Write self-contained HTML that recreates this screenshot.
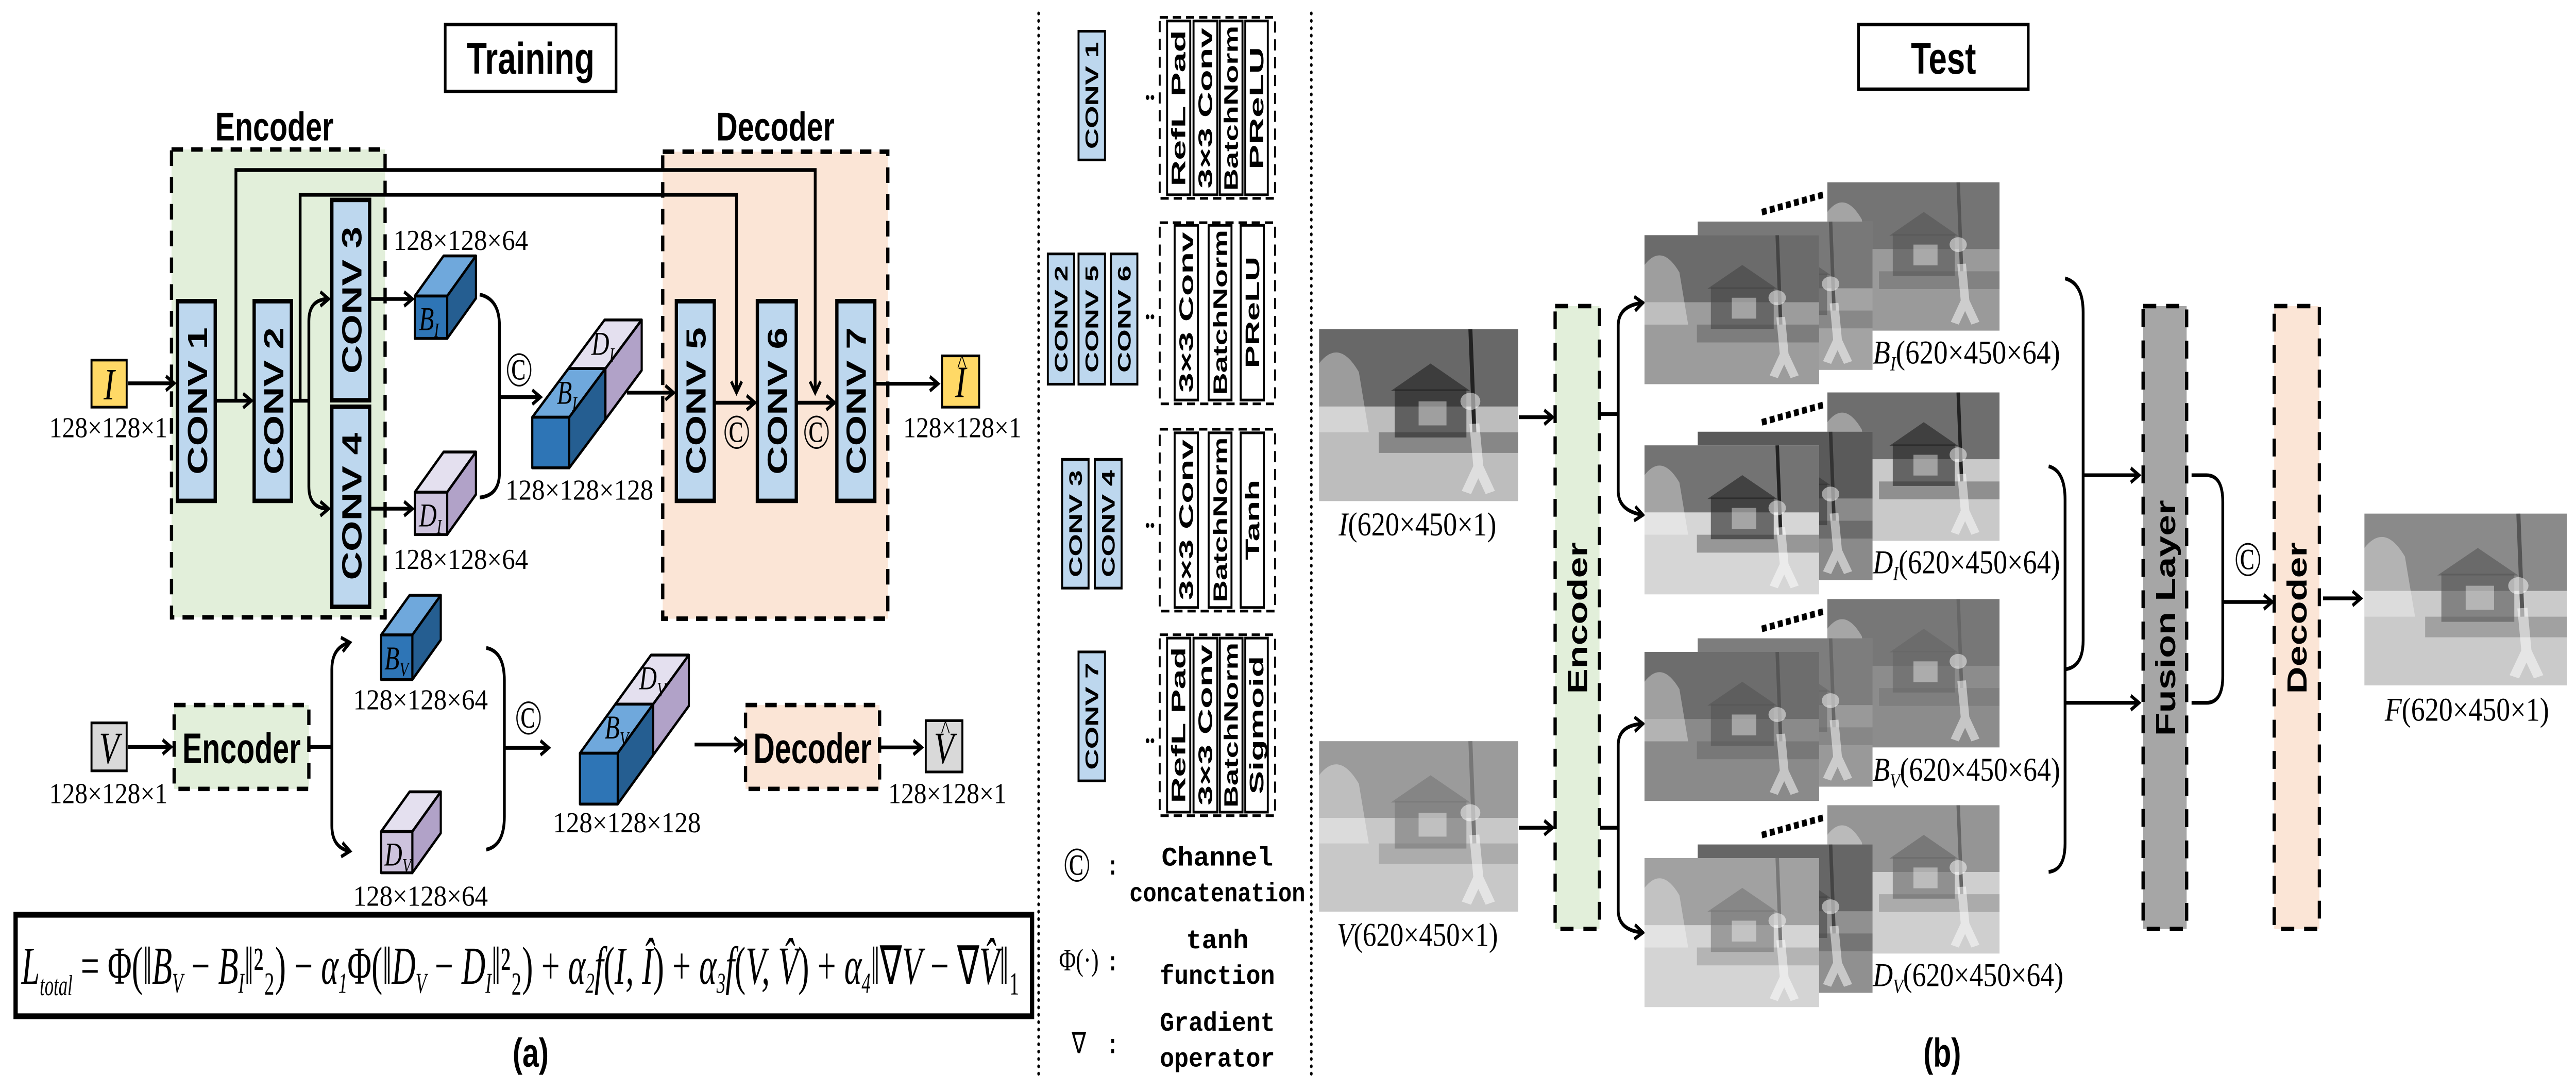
<!DOCTYPE html>
<html><head><meta charset="utf-8"><style>
html,body{margin:0;padding:0;background:#fff;width:100%;height:100%;overflow:hidden}
svg{display:block;position:fixed;left:0;top:0;width:100vw;height:100vh}
.s{font-family:"Liberation Serif",serif}
.b{font-family:"Liberation Sans",sans-serif;font-weight:bold}
.m{font-family:"Liberation Mono",monospace;font-weight:bold}
</style></head><body>
<svg viewBox="0 0 1568 489" preserveAspectRatio="none" xmlns="http://www.w3.org/2000/svg">
<defs>
<marker id="a" markerUnits="userSpaceOnUse" markerWidth="8" markerHeight="8" refX="6" refY="4" orient="auto"><path d="M1,0.8 L6,4 L1,7.2" fill="none" stroke="#000" stroke-width="1.6"/></marker>
<symbol id="sc" viewBox="0 0 100 100" preserveAspectRatio="none">
<rect x="0" y="0" width="100" height="45" fill="currentColor" opacity="0.55"/>
<path d="M0,20 Q10,5 20,25 L25,60 L0,60Z" fill="#fff" opacity="0.35"/>
<rect x="38" y="35" width="36" height="28" fill="currentColor" opacity="0.6"/>
<polygon points="36,36 56,20 76,36" fill="currentColor" opacity="0.6"/>
<rect x="50" y="42" width="14" height="14" fill="#fff" opacity="0.4"/>
<rect x="30" y="60" width="70" height="12" fill="currentColor" opacity="0.35"/>
<line x1="76" y1="0" x2="78" y2="60" stroke="currentColor" stroke-width="2"/>
<circle cx="76" cy="42" r="5" fill="#fff" opacity="0.5"/>
<path d="M78,55 L80,80 L74,95 M80,80 L86,95" stroke="#fff" stroke-width="5" opacity="0.5" fill="none"/>
</symbol>
</defs>

<rect x="271" y="11" width="104" height="30" fill="#fff" stroke="#000" stroke-width="1.6"/>
<text x="323" y="33" class="b" font-size="20" text-anchor="middle">Training</text>

<text x="167" y="63" class="b" font-size="18" text-anchor="middle">Encoder</text>
<rect x="104.4" y="67" width="130" height="209.7" fill="#e2efda" stroke="#000" stroke-width="2" stroke-dasharray="7,5"/>
<text x="472" y="63" class="b" font-size="18" text-anchor="middle">Decoder</text>
<rect x="403.4" y="68" width="137" height="209.3" fill="#fbe5d6" stroke="#000" stroke-width="2" stroke-dasharray="7,5"/>

<g fill="none" stroke="#000" stroke-width="1.7">
<path d="M143.6,179.6 V76.2 H496.2 V176" marker-end="url(#a)"/>
<path d="M182.7,179.6 V87.3 H448.3 V176" marker-end="url(#a)"/>
<path d="M78,171.8 H106" marker-end="url(#a)"/>
<path d="M131,179.6 H153" marker-end="url(#a)"/>
<path d="M177.4,179.6 H188"/>
<path d="M188,179.6 V144 Q188,134 200,134" marker-end="url(#a)"/>
<path d="M188,179.6 V218 Q188,228 200,228" marker-end="url(#a)"/>
<path d="M225,134 H251" marker-end="url(#a)"/>
<path d="M225,228 H251" marker-end="url(#a)"/>
<path d="M292,132 Q304,134 304,146 V212 Q304,222 292,223"/>
<path d="M304,178 H329" marker-end="url(#a)"/>
<path d="M381.6,176 H410" marker-end="url(#a)"/>
<path d="M434.8,180.5 H459.5" marker-end="url(#a)"/>
<path d="M484.7,180.5 H508" marker-end="url(#a)"/>
<path d="M532.5,172 H571" marker-end="url(#a)"/>
</g>

<rect x="55.7" y="161.4" width="21.4" height="21.1" fill="#ffd966" stroke="#000" stroke-width="1.2"/>
<text x="66.4" y="179" class="s" font-style="italic" font-size="20" text-anchor="middle">I</text>
<text x="66" y="196" class="s" font-size="13" text-anchor="middle" textLength="72" lengthAdjust="spacingAndGlyphs">128×128×1</text>

<g fill="#bdd7ee" stroke="#000" stroke-width="2">
<rect x="108" y="135" width="23" height="89.5"/>
<rect x="154.7" y="135" width="22.7" height="89.5"/>
<rect x="202" y="89.6" width="23" height="89.8"/>
<rect x="202" y="182.3" width="23" height="89.7"/>
<rect x="411.7" y="135" width="23.1" height="89.5"/>
<rect x="461" y="135" width="23.7" height="89.5"/>
<rect x="509.4" y="135" width="23.1" height="89.5"/>
</g>
<g class="b" font-size="17" text-anchor="middle">
<text transform="translate(126,179.7) rotate(-90)" textLength="66" lengthAdjust="spacingAndGlyphs">CONV 1</text>
<text transform="translate(172.5,179.7) rotate(-90)" textLength="66" lengthAdjust="spacingAndGlyphs">CONV 2</text>
<text transform="translate(220,134.5) rotate(-90)" textLength="66" lengthAdjust="spacingAndGlyphs">CONV 3</text>
<text transform="translate(220,227) rotate(-90)" textLength="66" lengthAdjust="spacingAndGlyphs">CONV 4</text>
<text transform="translate(429.5,179.7) rotate(-90)" textLength="66" lengthAdjust="spacingAndGlyphs">CONV 5</text>
<text transform="translate(479,179.7) rotate(-90)" textLength="66" lengthAdjust="spacingAndGlyphs">CONV 6</text>
<text transform="translate(527,179.7) rotate(-90)" textLength="66" lengthAdjust="spacingAndGlyphs">CONV 7</text>
</g>
<g class="s" font-size="22" text-anchor="middle">
<text x="448.4" y="201">©</text>
<text x="497" y="201">©</text>
<text x="316" y="173">©</text>
</g>

<g stroke="#000" stroke-width="1.3" stroke-linejoin="round">
<polygon points="252.5,132.7 272.2,132.7 289.7,114.7 270,114.7" fill="#6fa8dc"/>
<polygon points="272.2,132.7 289.7,114.7 289.7,133.7 272.2,151.7" fill="#255e91"/>
<rect x="252.5" y="132.7" width="19.7" height="19" fill="#2e75b6"/>
<polygon points="252.5,220.6 272.2,220.6 289.7,202.6 270,202.6" fill="#e4e0ef"/>
<polygon points="272.2,220.6 289.7,202.6 289.7,221.6 272.2,239.6" fill="#b1a2c8"/>
<rect x="252.5" y="220.6" width="19.7" height="19" fill="#cdc3dd"/>
<polygon points="346,165.2 368.5,165.2 390.6,143.4 368,143.4" fill="#e4e0ef"/>
<polygon points="368.5,165.2 390.6,143.4 390.6,166 368.5,188" fill="#b1a2c8"/>
<polygon points="324,187 346.5,187 368.5,165.2 346,165.2" fill="#6fa8dc"/>
<polygon points="346.5,187 368.5,165.2 368.5,188 346.5,209.7" fill="#255e91"/>
<rect x="324" y="187" width="22.5" height="22.7" fill="#2e75b6"/>
</g>
<g class="s" font-style="italic" font-size="15">
<text x="255" y="148">B<tspan font-size="9" dy="3">I</tspan></text>
<text x="255" y="236">D<tspan font-size="9" dy="3">I</tspan></text>
<text x="339" y="181">B<tspan font-size="9" dy="3">I</tspan></text>
<text x="360" y="159">D<tspan font-size="9" dy="3">I</tspan></text>
</g>
<g class="s" font-size="13" text-anchor="middle">
<text x="280.5" y="112" textLength="82" lengthAdjust="spacingAndGlyphs">128×128×64</text>
<text x="280.5" y="255" textLength="82" lengthAdjust="spacingAndGlyphs">128×128×64</text>
<text x="352.7" y="224" textLength="90" lengthAdjust="spacingAndGlyphs">128×128×128</text>
</g>
<rect x="573.4" y="159.5" width="22.6" height="23" fill="#ffd966" stroke="#000" stroke-width="1.2"/>
<text x="584.7" y="178" class="s" font-style="italic" font-size="20" text-anchor="middle">I</text>
<text x="585.5" y="167" class="s" font-size="12" text-anchor="middle">^</text>
<text x="585.8" y="196" class="s" font-size="13" text-anchor="middle" textLength="72" lengthAdjust="spacingAndGlyphs">128×128×1</text>

<rect x="55.7" y="324" width="21.4" height="21.5" fill="#d9d9d9" stroke="#000" stroke-width="1.2"/>
<text x="66.4" y="342" class="s" font-style="italic" font-size="20" text-anchor="middle">V</text>
<text x="66" y="360" class="s" font-size="13" text-anchor="middle" textLength="72" lengthAdjust="spacingAndGlyphs">128×128×1</text>
<rect x="106" y="316" width="82" height="37.6" fill="#e2efda" stroke="#000" stroke-width="2" stroke-dasharray="7,5"/>
<text x="147" y="342" class="b" font-size="19" text-anchor="middle" textLength="72" lengthAdjust="spacingAndGlyphs">Encoder</text>
<rect x="453.8" y="316" width="81.6" height="37.6" fill="#fbe5d6" stroke="#000" stroke-width="2" stroke-dasharray="7,5"/>
<text x="494.6" y="342" class="b" font-size="19" text-anchor="middle" textLength="72" lengthAdjust="spacingAndGlyphs">Decoder</text>
<g fill="none" stroke="#000" stroke-width="1.7">
<path d="M78,334.8 H104" marker-end="url(#a)"/>
<path d="M188,334.8 H202"/>
<path d="M202,334.8 V300 Q202,290 213,288" marker-end="url(#a)"/>
<path d="M202,334.8 V370 Q202,380 213,381.5" marker-end="url(#a)"/>
<path d="M296,290.4 Q307,292 307,305 V366 Q307,379 296,380.8"/>
<path d="M307,335.2 H334" marker-end="url(#a)"/>
<path d="M422.8,333.7 H452" marker-end="url(#a)"/>
<path d="M535.4,335 H561" marker-end="url(#a)"/>
</g>
<g stroke="#000" stroke-width="1.3" stroke-linejoin="round">
<polygon points="232,284.6 251,284.6 268.3,266.8 249.3,266.8" fill="#6fa8dc"/>
<polygon points="251,284.6 268.3,266.8 268.3,286.8 251,304.6" fill="#255e91"/>
<rect x="232" y="284.6" width="19" height="20" fill="#2e75b6"/>
<polygon points="232,372.7 251,372.7 268.3,354.9 249.3,354.9" fill="#e4e0ef"/>
<polygon points="251,372.7 268.3,354.9 268.3,373.4 251,391.2" fill="#b1a2c8"/>
<rect x="232" y="372.7" width="19" height="18.5" fill="#cdc3dd"/>
<polygon points="374.6,315.6 397.6,315.6 419.3,293.6 396.3,293.6" fill="#e4e0ef"/>
<polygon points="397.6,315.6 419.3,293.6 419.3,316.4 397.6,338.4" fill="#b1a2c8"/>
<polygon points="353,337.6 376,337.6 397.6,315.6 374.6,315.6" fill="#6fa8dc"/>
<polygon points="376,337.6 397.6,315.6 397.6,338.4 376,360.4" fill="#255e91"/>
<rect x="353" y="337.6" width="23" height="22.8" fill="#2e75b6"/>
</g>
<g class="s" font-style="italic" font-size="15">
<text x="234" y="300">B<tspan font-size="9" dy="3">V</tspan></text>
<text x="234" y="388">D<tspan font-size="9" dy="3">V</tspan></text>
<text x="368" y="331">B<tspan font-size="9" dy="3">V</tspan></text>
<text x="389" y="309">D<tspan font-size="9" dy="3">V</tspan></text>
</g>
<g class="s" font-size="13" text-anchor="middle">
<text x="256" y="318" textLength="82" lengthAdjust="spacingAndGlyphs">128×128×64</text>
<text x="256" y="406" textLength="82" lengthAdjust="spacingAndGlyphs">128×128×64</text>
<text x="381.6" y="373" textLength="90" lengthAdjust="spacingAndGlyphs">128×128×128</text>
</g>
<text x="321.7" y="329" class="s" font-size="22" text-anchor="middle">©</text>
<rect x="563.5" y="323" width="22.3" height="23" fill="#d9d9d9" stroke="#000" stroke-width="1.2"/>
<text x="574.6" y="342" class="s" font-style="italic" font-size="20" text-anchor="middle">V</text>
<text x="575.5" y="331" class="s" font-size="12" text-anchor="middle">^</text>
<text x="576.7" y="360" class="s" font-size="13" text-anchor="middle" textLength="72" lengthAdjust="spacingAndGlyphs">128×128×1</text>

<rect x="9.5" y="410" width="618.7" height="45.5" fill="#fff" stroke="#000" stroke-width="2.6"/>
<text x="13" y="441" class="s" font-style="italic" font-size="24" textLength="608" lengthAdjust="spacingAndGlyphs">L<tspan font-size="13" dy="5">total</tspan><tspan dy="-5" font-style="normal"> = Φ(‖</tspan>B<tspan font-size="13" dy="4">V</tspan><tspan dy="-4" font-style="normal"> − </tspan>B<tspan font-size="13" dy="4">I</tspan><tspan dy="-4" font-style="normal">‖²₂) − </tspan>α<tspan font-size="13" dy="4">1</tspan><tspan dy="-4" font-style="normal">Φ(‖</tspan>D<tspan font-size="13" dy="4">V</tspan><tspan dy="-4" font-style="normal"> − </tspan>D<tspan font-size="13" dy="4">I</tspan><tspan dy="-4" font-style="normal">‖²₂) + </tspan>α<tspan font-size="13" dy="4">2</tspan><tspan dy="-4">f</tspan><tspan font-style="normal">(</tspan>I, Î<tspan font-style="normal">) + </tspan>α<tspan font-size="13" dy="4">3</tspan><tspan dy="-4">f</tspan><tspan font-style="normal">(</tspan>V, V̂<tspan font-style="normal">) + </tspan>α<tspan font-size="13" dy="4">4</tspan><tspan dy="-4" font-style="normal">‖∇</tspan>V<tspan font-style="normal"> − ∇</tspan>V̂<tspan font-style="normal">‖₁</tspan></text>
<text x="323" y="478" class="b" font-size="18" text-anchor="middle">(a)</text>

<line x1="632.2" y1="6" x2="632.2" y2="482" stroke="#000" stroke-width="1.6" stroke-dasharray="0.1,3.2" stroke-linecap="round"/>
<line x1="798.2" y1="6" x2="798.2" y2="482" stroke="#000" stroke-width="1.6" stroke-dasharray="0.1,3.2" stroke-linecap="round"/>

<g fill="#bdd7ee" stroke="#000" stroke-width="1.2">
<rect x="656.5" y="14" width="16.1" height="57.7"/>
<rect x="637.8" y="113.8" width="16" height="58.4"/>
<rect x="656.5" y="113.8" width="16.1" height="58.4"/>
<rect x="676.2" y="113.8" width="16.1" height="58.4"/>
<rect x="646.5" y="205.9" width="16.1" height="57.7"/>
<rect x="666.4" y="205.9" width="16.3" height="57.7"/>
<rect x="656.5" y="292.2" width="16.1" height="57.8"/>
</g>
<g class="b" font-size="11" text-anchor="middle">
<text transform="translate(668.5,42.8) rotate(-90)" textLength="48" lengthAdjust="spacingAndGlyphs">CONV 1</text>
<text transform="translate(649.8,143) rotate(-90)" textLength="48" lengthAdjust="spacingAndGlyphs">CONV 2</text>
<text transform="translate(668.5,143) rotate(-90)" textLength="48" lengthAdjust="spacingAndGlyphs">CONV 5</text>
<text transform="translate(688.2,143) rotate(-90)" textLength="48" lengthAdjust="spacingAndGlyphs">CONV 6</text>
<text transform="translate(658.5,234.7) rotate(-90)" textLength="48" lengthAdjust="spacingAndGlyphs">CONV 3</text>
<text transform="translate(678.5,234.7) rotate(-90)" textLength="48" lengthAdjust="spacingAndGlyphs">CONV 4</text>
<text transform="translate(668.5,321) rotate(-90)" textLength="48" lengthAdjust="spacingAndGlyphs">CONV 7</text>
</g>
<g fill="#000">
<circle cx="698.5" cy="43.7" r="1.1"/><circle cx="701.5" cy="43.7" r="1.1"/>
<circle cx="698.5" cy="142" r="1.1"/><circle cx="701.5" cy="142" r="1.1"/>
<circle cx="698.5" cy="235.5" r="1.1"/><circle cx="701.5" cy="235.5" r="1.1"/>
<circle cx="698.5" cy="332" r="1.1"/><circle cx="701.5" cy="332" r="1.1"/>
</g>
<g fill="none" stroke="#000" stroke-width="1.2" stroke-dasharray="5,3">
<rect x="705.9" y="7.8" width="70.2" height="81.1"/>
<rect x="705.9" y="99.8" width="70.2" height="81.2"/>
<rect x="705.9" y="192.4" width="70.2" height="81.5"/>
<rect x="705.9" y="284.5" width="70.2" height="81.1"/>
</g>
<g fill="#fff" stroke="#000" stroke-width="1.2">
<rect x="710.4" y="9.4" width="14.1" height="77.9"/><rect x="726.5" y="9.4" width="14.5" height="77.9"/><rect x="742.5" y="9.4" width="13.8" height="77.9"/><rect x="758" y="9.4" width="13.7" height="77.9"/>
<rect x="715" y="101" width="14.2" height="78.3"/><rect x="735.7" y="101" width="13.9" height="78.3"/><rect x="755.2" y="101" width="14.1" height="78.3"/>
<rect x="715" y="194" width="14.2" height="78.3"/><rect x="735.7" y="194" width="13.9" height="78.3"/><rect x="755.2" y="194" width="14.1" height="78.3"/>
<rect x="710.4" y="286" width="14.1" height="78"/><rect x="726.5" y="286" width="14.5" height="78"/><rect x="742.5" y="286" width="13.8" height="78"/><rect x="758" y="286" width="13.7" height="78"/>
</g>
<g class="b" font-size="12" text-anchor="middle">
<text transform="translate(721.5,48.5) rotate(-90)" textLength="70" lengthAdjust="spacingAndGlyphs">RefL  Pad</text>
<text transform="translate(737.8,48.5) rotate(-90)" textLength="72" lengthAdjust="spacingAndGlyphs">3×3 Conv</text>
<text transform="translate(753.5,48.5) rotate(-90)" textLength="74" lengthAdjust="spacingAndGlyphs">BatchNorm</text>
<text transform="translate(769,48.5) rotate(-90)" textLength="55" lengthAdjust="spacingAndGlyphs">PReLU</text>
<text transform="translate(726.2,140) rotate(-90)" textLength="72" lengthAdjust="spacingAndGlyphs">3×3 Conv</text>
<text transform="translate(746.8,140) rotate(-90)" textLength="74" lengthAdjust="spacingAndGlyphs">BatchNorm</text>
<text transform="translate(766.4,140) rotate(-90)" textLength="50" lengthAdjust="spacingAndGlyphs">PReLU</text>
<text transform="translate(726.2,233) rotate(-90)" textLength="72" lengthAdjust="spacingAndGlyphs">3×3 Conv</text>
<text transform="translate(746.8,233) rotate(-90)" textLength="74" lengthAdjust="spacingAndGlyphs">BatchNorm</text>
<text transform="translate(766.4,233) rotate(-90)" textLength="36" lengthAdjust="spacingAndGlyphs">Tanh</text>
<text transform="translate(721.5,325) rotate(-90)" textLength="70" lengthAdjust="spacingAndGlyphs">RefL  Pad</text>
<text transform="translate(737.8,325) rotate(-90)" textLength="72" lengthAdjust="spacingAndGlyphs">3×3 Conv</text>
<text transform="translate(753.5,325) rotate(-90)" textLength="74" lengthAdjust="spacingAndGlyphs">BatchNorm</text>
<text transform="translate(769,325) rotate(-90)" textLength="62" lengthAdjust="spacingAndGlyphs">Sigmoid</text>
</g>
<text x="655.5" y="395" class="s" font-size="22" text-anchor="middle">©</text>
<text x="656.7" y="435" class="s" font-size="14" text-anchor="middle">Φ(·)</text>
<text x="656.7" y="472" class="s" font-size="13" text-anchor="middle">∇</text>
<g class="m" font-size="12" text-anchor="middle">
<text x="677.3" y="392">:</text><text x="677.3" y="435">:</text><text x="677.3" y="472">:</text>
<text x="741" y="388" textLength="68" lengthAdjust="spacingAndGlyphs">Channel</text>
<text x="741" y="404" textLength="107" lengthAdjust="spacingAndGlyphs">concatenation</text>
<text x="741" y="425" textLength="38" lengthAdjust="spacingAndGlyphs">tanh</text>
<text x="741" y="441" textLength="70" lengthAdjust="spacingAndGlyphs">function</text>
<text x="741" y="462" textLength="70" lengthAdjust="spacingAndGlyphs">Gradient</text>
<text x="741" y="478" textLength="70" lengthAdjust="spacingAndGlyphs">operator</text>
</g>

<rect x="1131.3" y="11" width="103.3" height="29" fill="#fff" stroke="#000" stroke-width="1.6"/>
<text x="1183" y="33" class="b" font-size="20" text-anchor="middle">Test</text>

<rect x="802.9" y="147.5" width="121.2" height="77.1" fill="#bdbdbd"/>
<use href="#sc" x="802.9" y="147.5" width="121.2" height="77.1" style="color:#222"/>
<text x="862.8" y="240" class="s" font-size="15" text-anchor="middle" textLength="96" lengthAdjust="spacingAndGlyphs"><tspan font-style="italic">I</tspan>(620×450×1)</text>
<rect x="802.9" y="332.2" width="121.2" height="76.4" fill="#c8c8c8"/>
<use href="#sc" x="802.9" y="332.2" width="121.2" height="76.4" style="color:#777"/>
<text x="862.8" y="424" class="s" font-size="15" text-anchor="middle" textLength="98" lengthAdjust="spacingAndGlyphs"><tspan font-style="italic">V</tspan>(620×450×1)</text>

<rect x="946.6" y="137.2" width="27" height="279.2" fill="#e2efda" stroke="#000" stroke-width="2" stroke-dasharray="8,6"/>
<text transform="translate(966,277) rotate(-90)" class="b" font-size="17" text-anchor="middle">Encoder</text>
<rect x="1304.5" y="137.2" width="26.5" height="279.2" fill="#a6a6a6" stroke="#000" stroke-width="2" stroke-dasharray="8,6"/>
<text transform="translate(1324,277) rotate(-90)" class="b" font-size="17" text-anchor="middle">Fusion Layer</text>
<rect x="1384.3" y="137.2" width="27.5" height="279.2" fill="#fbe5d6" stroke="#000" stroke-width="2" stroke-dasharray="8,6"/>
<text transform="translate(1404,277) rotate(-90)" class="b" font-size="17" text-anchor="middle">Decoder</text>

<g fill="none" stroke="#000" stroke-width="1.7">
<path d="M924.5,187 H945" marker-end="url(#a)"/>
<path d="M924.5,371 H945" marker-end="url(#a)"/>
<path d="M974,185.6 H985"/>
<path d="M985,185.6 V146 Q985,137 1000,135.7" marker-end="url(#a)"/>
<path d="M985,185.6 V220 Q985,229 1000,230.8" marker-end="url(#a)"/>
<path d="M974,371 H985"/>
<path d="M985,371 V334 Q985,325 1000,324.4" marker-end="url(#a)"/>
<path d="M985,371 V408 Q985,417 1000,418" marker-end="url(#a)"/>
<path d="M1257,124.8 Q1268,127 1268,140 V287 Q1268,299 1257,300"/>
<path d="M1268,213 H1302" marker-end="url(#a)"/>
<path d="M1247,209 Q1257,211 1257,224 V378 Q1257,390 1247,390.8"/>
<path d="M1257,315 H1302" marker-end="url(#a)"/>
<path d="M1334,213 H1343 Q1353,213 1353,225 V303 Q1353,315 1343,315 H1334"/>
<path d="M1353,269.8 H1383" marker-end="url(#a)"/>
<path d="M1414,268.2 H1437" marker-end="url(#a)"/>
</g>
<text x="1368.3" y="258" class="s" font-size="22" text-anchor="middle">©</text>

<g>
<rect x="1112.3" y="81.7" width="104.8" height="66.5" fill="#9a9a9a"/>
<use href="#sc" x="1112.3" y="81.7" width="104.8" height="66.5" style="color:#555"/>
<rect x="1033.4" y="99.3" width="106.4" height="66.5" fill="#a3a3a3"/>
<use href="#sc" x="1033.4" y="99.3" width="106.4" height="66.5" style="color:#555"/>
<rect x="1001" y="105.4" width="106.3" height="66.8" fill="#9c9c9c"/>
<use href="#sc" x="1001" y="105.4" width="106.3" height="66.8" style="color:#444"/>
<line x1="1072.4" y1="95.1" x2="1109.8" y2="87.3" stroke="#000" stroke-width="3" stroke-dasharray="3,2"/>
</g>
<g transform="translate(0,94.2)">
<rect x="1112.3" y="81.7" width="104.8" height="66.5" fill="#c9c9c9"/>
<use href="#sc" x="1112.3" y="81.7" width="104.8" height="66.5" style="color:#222"/>
<rect x="1033.4" y="99.3" width="106.4" height="66.5" fill="#8a8a8a"/>
<use href="#sc" x="1033.4" y="99.3" width="106.4" height="66.5" style="color:#333"/>
<rect x="1001" y="105.4" width="106.3" height="66.8" fill="#d6d6d6"/>
<use href="#sc" x="1001" y="105.4" width="106.3" height="66.8" style="color:#222"/>
<line x1="1072.4" y1="95.1" x2="1109.8" y2="87.3" stroke="#000" stroke-width="3" stroke-dasharray="3,2"/>
</g>
<g transform="translate(0,186.8)">
<rect x="1112.3" y="81.7" width="104.8" height="66.5" fill="#8c8c8c"/>
<use href="#sc" x="1112.3" y="81.7" width="104.8" height="66.5" style="color:#666"/>
<rect x="1033.4" y="99.3" width="106.4" height="66.5" fill="#999"/>
<use href="#sc" x="1033.4" y="99.3" width="106.4" height="66.5" style="color:#666"/>
<rect x="1001" y="105.4" width="106.3" height="66.8" fill="#8a8a8a"/>
<use href="#sc" x="1001" y="105.4" width="106.3" height="66.8" style="color:#555"/>
<line x1="1072.4" y1="95.1" x2="1109.8" y2="87.3" stroke="#000" stroke-width="3" stroke-dasharray="3,2"/>
</g>
<g transform="translate(0,279.2)">
<rect x="1112.3" y="81.7" width="104.8" height="66.5" fill="#cfcfcf"/>
<use href="#sc" x="1112.3" y="81.7" width="104.8" height="66.5" style="color:#666"/>
<rect x="1033.4" y="99.3" width="106.4" height="66.5" fill="#909090"/>
<use href="#sc" x="1033.4" y="99.3" width="106.4" height="66.5" style="color:#444"/>
<rect x="1001" y="105.4" width="106.3" height="66.8" fill="#d4d4d4"/>
<use href="#sc" x="1001" y="105.4" width="106.3" height="66.8" style="color:#777"/>
<line x1="1072.4" y1="95.1" x2="1109.8" y2="87.3" stroke="#000" stroke-width="3" stroke-dasharray="3,2"/>
</g>
<g class="s" font-size="15">
<text x="1140" y="163" textLength="114" lengthAdjust="spacingAndGlyphs"><tspan font-style="italic">B</tspan><tspan font-size="9" dy="3" font-style="italic">I</tspan><tspan dy="-3">(620×450×64)</tspan></text>
<text x="1140" y="257" textLength="114" lengthAdjust="spacingAndGlyphs"><tspan font-style="italic">D</tspan><tspan font-size="9" dy="3" font-style="italic">I</tspan><tspan dy="-3">(620×450×64)</tspan></text>
<text x="1140" y="350" textLength="114" lengthAdjust="spacingAndGlyphs"><tspan font-style="italic">B</tspan><tspan font-size="9" dy="3" font-style="italic">V</tspan><tspan dy="-3">(620×450×64)</tspan></text>
<text x="1140" y="442" textLength="116" lengthAdjust="spacingAndGlyphs"><tspan font-style="italic">D</tspan><tspan font-size="9" dy="3" font-style="italic">V</tspan><tspan dy="-3">(620×450×64)</tspan></text>
</g>

<rect x="1439.2" y="230.2" width="123.3" height="77" fill="#cacaca"/>
<use href="#sc" x="1439.2" y="230.2" width="123.3" height="77" style="color:#555"/>
<text x="1501.6" y="323" class="s" font-size="15" text-anchor="middle" textLength="100" lengthAdjust="spacingAndGlyphs"><tspan font-style="italic">F</tspan>(620×450×1)</text>
<text x="1182.2" y="478" class="b" font-size="18" text-anchor="middle">(b)</text>
</svg>
</body></html>
